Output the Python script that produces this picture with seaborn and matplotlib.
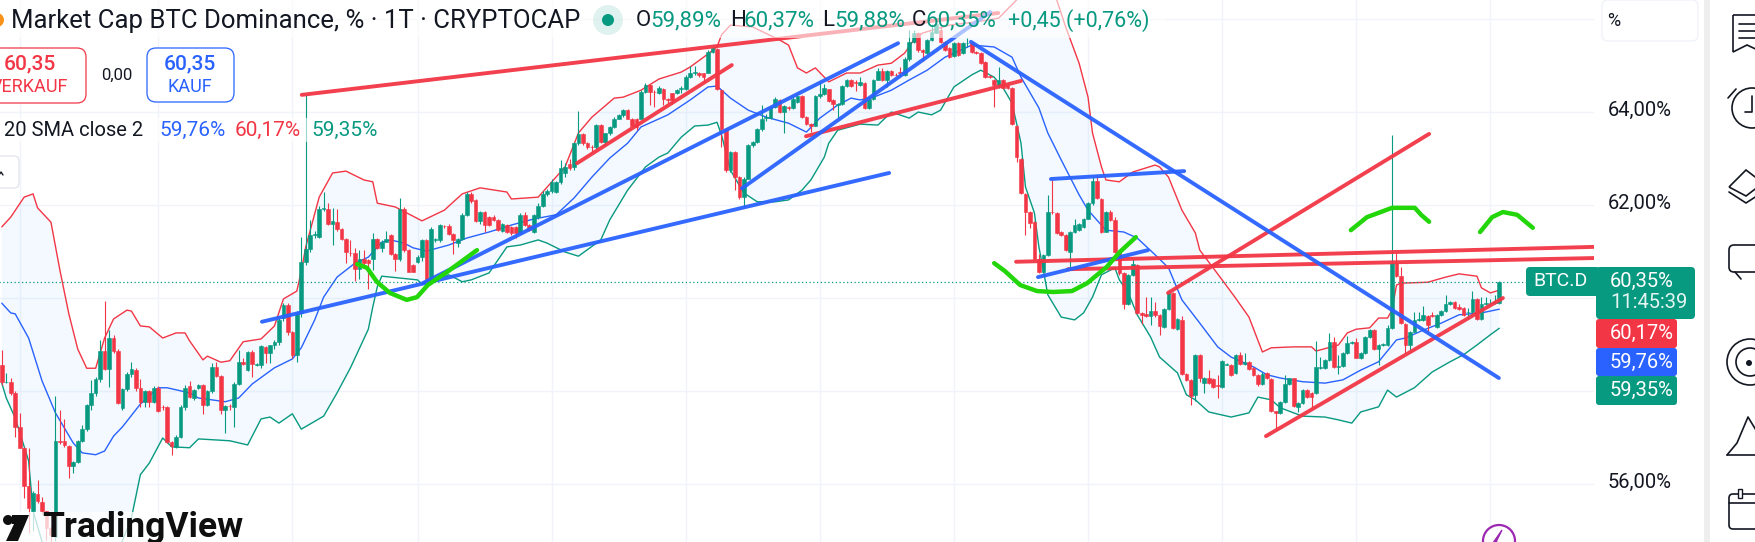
# BTC dominance daily chart, rebuilt from a TradingView screenshot
import numpy as np
import matplotlib
matplotlib.use("Agg")
import matplotlib.pyplot as plt
from matplotlib.patches import Circle, FancyBboxPatch, Polygon, Rectangle
import seaborn as sns

GREEN = "#089981"
RED = "#F23645"
BLUE = "#2962FF"
DARK = "#131722"

# daily candles, oldest first (ten per row)
opens = [
    58.19,58.57,58.19,58.19,57.95,57.23,56.78,55.96,55.41,55.78,
    55.62,55.41,55.05,54.85,56.93,56.93,56.82,56.39,56.48,56.93,
    57.18,57.69,57.96,58.25,58.87,58.47,59.15,58.87,57.63,58.04,
    58.36,58.45,58.06,57.77,58.01,57.77,58.07,57.66,57.65,56.91,
    56.80,57.02,57.66,58.11,57.86,58.06,58.13,57.70,57.99,58.51,
    58.32,57.59,57.68,57.66,58.16,58.62,58.45,58.85,58.56,58.56,
    58.95,58.81,58.99,59.06,59.57,59.85,59.27,58.77,59.68,60.78,
    61.05,61.35,61.32,61.91,61.91,61.59,61.64,61.48,61.28,60.97,
    60.96,60.62,60.83,60.82,60.85,61.28,61.07,61.21,61.35,60.95,
    60.85,61.91,61.03,60.71,60.78,60.89,61.25,60.35,61.25,61.25,
    61.56,61.55,61.38,61.19,61.28,61.79,62.24,62.11,61.66,61.86,
    61.75,61.75,61.68,61.45,61.57,61.53,61.53,61.40,61.79,61.57,
    61.43,61.74,61.99,62.23,62.31,62.29,62.50,62.68,62.88,62.82,
    63.33,63.53,63.33,63.25,63.24,63.72,63.36,63.54,63.68,63.86,
    63.93,64.04,63.86,63.86,63.86,64.44,64.58,64.44,64.40,64.49,
    64.29,64.40,64.40,64.49,64.49,64.76,64.85,64.85,64.83,64.85,
    65.30,65.35,64.47,63.63,62.75,63.15,62.61,62.18,62.57,63.29,
    63.36,63.63,63.88,63.88,64.10,64.27,64.01,64.10,64.08,64.22,
    64.34,63.90,63.74,63.71,64.34,64.39,64.49,64.26,64.15,64.17,
    64.56,64.70,64.65,64.58,64.63,64.08,64.29,64.70,64.89,64.69,
    64.89,64.80,64.87,64.79,65.15,65.51,65.71,65.33,65.26,65.55,
    65.71,65.76,65.51,65.37,65.20,65.49,65.26,65.48,65.48,65.30,
    65.28,65.08,64.77,64.69,64.58,64.69,64.58,64.51,63.71,63.00,
    62.24,61.86,61.64,60.85,60.57,60.92,61.86,61.82,61.43,61.35,
    60.99,61.43,61.46,61.53,61.71,62.04,62.52,62.14,61.43,61.86,
    61.68,60.99,60.53,59.88,60.49,60.71,59.67,59.66,59.61,59.72,
    59.63,59.38,59.76,60.10,59.33,59.53,58.36,58.24,57.91,58.77,
    58.18,58.27,58.26,58.13,58.09,58.57,58.56,58.38,58.77,58.59,
    58.62,58.49,58.34,58.15,58.38,58.26,57.56,57.52,57.77,58.15,
    58.27,57.66,57.75,58.02,57.95,57.95,58.49,58.49,58.67,59.06,
    58.52,58.54,58.81,59.04,59.06,58.70,58.82,59.17,59.31,58.90,
    58.99,58.99,59.35,60.75,60.47,59.45,58.99,59.28,59.53,59.53,
    59.61,59.63,59.38,59.63,59.72,59.87,59.92,59.80,59.78,59.70,
    59.70,59.99,59.54,59.88,59.89,59.90,59.89,
]
closes = [
    58.57,58.19,58.20,57.95,57.23,56.78,55.96,55.48,55.80,55.64,
    55.41,55.05,54.90,56.93,56.91,56.84,56.39,56.48,56.93,57.18,
    57.69,57.96,58.25,58.87,58.47,59.15,58.87,57.75,58.04,58.36,
    58.47,58.06,57.77,58.01,57.77,58.07,57.57,57.65,56.91,56.82,
    57.02,57.66,58.07,57.88,58.02,58.13,57.70,57.99,58.51,58.32,
    57.59,57.68,57.67,58.16,58.63,58.58,58.85,58.59,58.58,58.97,
    58.81,58.99,59.06,59.53,59.85,59.27,58.77,59.68,60.78,61.05,
    61.35,61.38,61.91,61.93,61.59,61.66,61.48,61.26,60.99,60.96,
    60.62,60.83,60.75,60.75,61.28,61.07,61.21,61.26,60.95,60.83,
    61.91,61.03,60.57,60.57,60.89,61.25,60.37,61.48,61.28,61.57,
    61.55,61.38,61.25,61.28,61.79,62.24,62.09,61.66,61.86,61.57,
    61.57,61.68,61.46,61.59,61.43,61.39,61.39,61.79,61.57,61.46,
    61.79,61.99,62.23,62.31,62.49,62.50,62.79,62.82,62.80,63.33,
    63.53,63.33,63.25,63.24,63.72,63.36,63.54,63.68,63.86,63.93,
    64.04,63.86,63.70,63.68,64.44,64.58,64.44,64.43,64.51,64.29,
    64.27,64.26,64.47,64.51,64.76,64.85,64.87,64.80,64.76,65.30,
    65.37,64.49,63.63,62.75,63.15,62.61,62.18,62.57,63.29,63.36,
    63.63,63.84,63.89,64.10,64.29,64.01,64.13,64.08,64.29,64.34,
    63.90,63.74,63.71,64.34,64.39,64.51,64.24,64.17,64.17,64.56,
    64.70,64.56,64.62,64.65,64.08,64.29,64.70,64.89,64.69,64.89,
    64.80,64.79,64.83,65.15,65.51,65.71,65.33,65.30,65.55,65.73,
    65.89,65.51,65.33,65.19,65.49,65.23,65.48,65.49,65.30,65.26,
    65.06,64.76,64.76,64.58,64.69,64.51,64.51,63.74,63.04,62.25,
    61.86,61.62,60.85,60.57,60.92,61.86,61.84,61.39,61.35,61.03,
    61.43,61.57,61.60,61.71,62.04,62.52,62.16,61.43,61.86,61.68,
    60.99,60.53,59.88,60.49,60.74,59.68,59.63,59.61,59.72,59.63,
    59.40,59.76,60.10,59.35,59.54,58.36,58.24,57.90,58.77,58.27,
    58.29,58.18,58.09,58.11,58.64,58.59,58.34,58.77,58.59,58.63,
    58.47,58.34,58.15,58.36,58.27,57.56,57.52,57.77,58.15,58.27,
    57.68,57.75,58.02,57.88,57.88,58.51,58.51,58.67,59.06,58.52,
    58.53,58.81,59.04,59.06,58.72,58.82,59.17,59.31,58.90,59.00,
    59.01,59.35,60.75,60.47,59.47,58.99,59.28,59.53,59.54,59.63,
    59.42,59.61,59.63,59.72,59.87,59.92,59.78,59.76,59.63,59.71,
    59.99,59.54,59.88,59.89,59.90,59.91,60.35,
]
highs = [
    58.62,58.88,58.38,58.27,57.99,57.52,56.80,56.77,55.86,56.08,
    55.73,55.42,55.10,57.89,57.59,57.40,56.84,56.50,56.95,57.27,
    57.72,58.24,58.30,59.10,59.94,59.31,59.20,58.90,58.06,58.40,
    58.62,58.50,58.25,58.03,58.03,58.10,58.10,57.70,57.67,56.93,
    57.05,57.70,58.12,58.22,58.05,58.15,58.15,58.02,58.60,58.63,
    58.35,57.70,57.72,58.20,58.88,58.70,58.87,58.88,58.60,59.00,
    58.97,59.00,59.10,59.60,59.90,59.90,59.30,59.72,61.32,64.37,
    61.68,61.45,61.98,62.27,62.04,61.93,61.91,61.50,61.30,61.25,
    61.07,61.03,61.03,60.85,61.40,61.30,61.25,61.45,61.38,60.97,
    62.16,61.95,61.05,60.73,60.92,61.28,61.28,61.52,61.30,61.60,
    61.58,61.60,61.40,61.30,61.82,62.28,62.27,62.13,61.88,61.88,
    61.77,61.78,61.70,61.62,61.60,61.56,61.55,61.82,61.86,61.60,
    61.81,62.05,62.30,62.34,62.55,62.52,62.97,62.90,63.00,63.35,
    64.02,63.55,63.35,63.30,63.75,63.74,63.56,63.70,63.90,63.95,
    64.07,64.06,63.88,63.88,64.47,64.62,64.60,64.47,64.55,64.51,
    64.31,64.42,64.50,64.55,64.80,65.00,65.00,64.87,64.85,65.33,
    65.40,65.38,64.50,63.65,63.17,63.17,62.63,62.60,63.32,63.38,
    63.65,64.15,63.95,64.13,64.32,64.29,64.15,64.12,64.33,64.37,
    64.36,63.92,63.76,64.37,64.65,64.60,64.50,64.28,64.20,64.58,
    64.72,64.72,64.70,64.75,64.65,64.30,64.72,64.94,64.95,64.91,
    64.91,64.83,64.97,65.18,65.76,65.76,65.73,65.36,65.58,65.90,
    66.00,65.85,65.53,65.39,65.51,65.51,65.50,65.60,65.50,65.32,
    65.30,65.10,64.80,64.71,64.97,64.72,64.60,64.53,63.73,63.02,
    62.26,61.88,61.66,60.95,60.95,62.22,62.54,61.84,61.45,61.37,
    61.45,61.69,61.62,61.73,62.06,62.60,62.60,62.16,61.88,61.90,
    61.75,61.01,60.55,60.51,60.85,60.73,59.69,60.03,60.03,59.92,
    59.65,59.78,60.12,60.12,59.56,59.61,58.38,58.26,58.79,58.79,
    58.31,58.45,58.28,58.34,58.66,58.60,58.58,58.79,58.83,58.81,
    58.64,58.51,58.36,58.40,58.40,58.28,57.58,57.79,58.34,58.29,
    58.29,57.77,58.04,58.04,57.97,59.07,58.74,58.69,59.24,59.17,
    58.77,58.83,59.18,59.08,59.13,58.84,59.19,59.33,59.33,59.02,
    59.03,59.42,63.50,60.96,60.67,59.47,59.30,59.71,59.70,59.83,
    59.63,59.71,59.65,59.74,60.06,59.94,59.94,59.88,59.80,59.78,
    60.16,60.01,60.02,60.03,59.99,60.06,60.37,
]
lows = [
    58.10,58.13,58.17,57.91,57.02,56.77,55.69,54.94,55.00,55.60,
    55.35,54.80,54.75,54.78,56.87,56.80,56.12,56.23,56.46,56.90,
    57.15,57.60,57.90,58.20,58.45,58.09,58.82,57.72,57.60,58.00,
    58.30,58.00,57.65,57.65,57.66,57.75,57.55,57.60,56.89,56.62,
    56.78,57.00,57.60,57.85,57.80,58.04,57.50,57.68,57.95,58.30,
    57.50,57.09,57.60,57.23,58.14,58.56,58.43,58.31,58.54,58.50,
    58.60,58.60,58.90,59.00,59.50,59.20,58.70,58.62,59.60,60.70,
    61.00,61.30,61.30,61.88,61.57,61.14,61.44,61.24,60.76,60.90,
    60.37,60.42,60.72,60.19,60.60,61.05,61.00,61.20,60.93,60.59,
    60.80,61.00,60.55,60.55,60.75,60.80,60.33,60.30,61.20,61.20,
    61.50,61.35,60.94,61.10,61.25,61.77,62.05,61.64,61.60,61.41,
    61.55,61.65,61.44,61.42,61.40,61.35,61.30,61.37,61.55,61.44,
    61.40,61.70,61.95,62.20,62.25,62.25,62.45,62.60,62.75,62.75,
    63.30,63.30,63.20,63.15,63.20,63.34,63.30,63.50,63.65,63.84,
    63.90,63.84,63.68,63.61,63.84,64.40,64.15,64.10,64.38,64.15,
    64.20,64.17,64.38,64.40,64.47,64.74,64.80,64.75,64.65,64.83,
    65.28,64.47,63.25,62.70,62.70,62.32,62.14,61.96,62.55,63.25,
    63.34,63.60,63.80,63.86,64.08,63.99,63.54,64.05,64.06,64.20,
    63.88,63.72,63.58,63.69,64.30,64.37,64.22,64.04,63.88,64.15,
    64.54,64.54,64.45,64.56,64.06,64.06,64.27,64.68,64.67,64.54,
    64.78,64.77,64.77,64.77,65.10,65.49,65.30,65.10,65.24,65.53,
    65.69,65.49,65.31,65.17,65.18,65.21,65.24,65.40,65.28,65.24,
    65.04,64.74,64.74,64.10,64.51,64.49,64.49,63.72,62.93,62.23,
    61.35,61.50,60.83,60.54,60.55,60.90,61.80,61.37,61.33,61.01,
    60.64,61.40,61.44,61.50,61.69,62.00,62.14,61.40,61.41,61.66,
    60.97,60.50,59.76,59.86,60.47,59.66,59.45,59.59,59.42,59.60,
    59.20,59.36,59.74,59.33,59.31,58.34,58.22,57.70,57.79,58.20,
    57.96,58.16,58.07,57.84,58.07,58.55,58.32,58.36,58.57,58.55,
    58.45,58.32,58.10,58.12,58.25,57.54,57.20,57.50,57.75,58.13,
    57.66,57.55,57.73,57.86,57.66,57.93,58.47,58.47,58.65,58.50,
    58.36,58.52,58.79,59.02,58.70,58.68,58.80,59.15,58.88,58.56,
    58.97,58.97,59.33,60.45,59.45,58.81,58.88,59.26,59.50,59.51,
    59.28,59.59,59.36,59.61,59.70,59.85,59.76,59.74,59.61,59.55,
    59.68,59.52,59.52,59.85,59.85,59.87,59.88,
]

# bollinger bands, read as bars back from the last candle
upper_back = [335,333,330,328,327,324,322,320,318,316,314,312,310,307,306,304,302,299,296,294,
              293,290,289,286,284,281,277,274,272,269,268,267,264,261,258,254,252,251,247,241,
              236,232,228,222,221,215,209,206,203,198,196,192,188,183,181,178,175,174,172,167,
              161,159,157,155,153,150,146,143,139,136,133,131,129,123,117,112,108,105,102,99,
              97,94,92,91,89,88,85,82,77,76,74,71,68,67,62,59,56,53,51,46,
              42,41,36,34,32,29,27,25,24,23,22,16,12,9,5,4,2,0]
upper_val = [61.53,61.74,62.17,62.24,61.94,61.63,60.60,59.66,58.90,58.49,58.49,59.14,59.55,59.74,59.72,59.40,59.38,59.14,59.25,59.25,
             59.08,58.67,58.75,58.62,58.65,59.06,59.12,59.40,59.98,60.15,60.58,61.10,62.17,62.69,62.73,62.54,62.50,62.04,61.96,61.66,
             61.89,62.24,62.37,62.28,62.13,62.17,62.82,63.55,63.89,64.30,64.32,64.47,64.71,64.86,64.97,65.18,65.40,65.66,65.87,65.83,
             65.55,65.44,64.95,64.84,64.95,64.65,64.84,64.84,65.01,65.05,65.27,65.55,65.70,65.87,65.94,66.02,66.41,66.73,66.62,66.41,
             65.83,65.05,64.32,63.55,62.82,62.54,62.50,62.71,62.86,62.82,62.60,61.89,61.40,61.03,60.39,60.00,59.59,58.84,58.93,58.95,
             58.95,58.86,58.99,59.25,59.33,59.36,59.57,59.57,59.74,60.28,60.32,60.34,60.45,60.52,60.47,60.22,60.11,60.17]
middle_back = [335,333,332,329,326,323,319,317,314,312,310,308,304,300,298,293,291,285,282,279,
               274,270,268,265,263,260,256,253,250,248,245,243,240,235,231,226,221,216,211,207,
               203,199,195,192,186,181,177,175,172,168,164,159,155,152,148,145,143,140,136,132,
               128,124,118,113,109,107,103,101,98,94,92,88,84,81,77,74,71,67,63,60,
               55,52,49,44,39,35,31,27,23,21,17,13,9,4,1,0]
middle_val = [59.89,59.68,59.66,59.14,58.22,57.53,56.88,56.67,56.63,56.71,57.03,57.23,57.72,58.07,58.07,57.96,57.85,57.77,57.85,58.15,
              58.50,58.69,58.93,59.53,60.02,60.45,60.75,60.88,61.20,61.25,61.18,61.08,61.01,61.14,61.29,61.42,61.57,61.70,61.79,62.15,
              62.60,63.01,63.33,63.68,63.94,64.26,64.54,64.56,64.30,64.04,63.89,63.76,63.57,63.87,64.15,64.30,64.26,64.32,64.47,64.69,
              64.90,65.18,65.44,65.40,65.18,64.75,64.09,63.55,62.97,62.22,61.89,61.46,61.42,61.29,60.93,60.65,59.96,59.46,58.95,58.73,
              58.52,58.35,58.28,58.20,58.17,58.24,58.45,58.63,59.10,59.14,59.31,59.46,59.64,59.68,59.74,59.76]
lower_back = [335,334,332,329,328,326,322,318,312,308,306,304,302,299,297,293,291,284,280,277,
              275,273,270,268,263,260,257,253,252,251,250,248,242,241,235,232,230,226,222,219,
              215,213,209,206,201,199,195,191,188,186,183,180,177,175,174,172,169,166,162,159,
              156,154,151,150,148,143,139,136,132,130,127,125,122,118,116,113,111,109,107,106,
              104,103,102,101,98,95,93,91,89,86,85,83,81,78,76,72,70,68,65,60,
              56,54,51,49,46,44,39,36,33,31,27,25,23,19,15,11,8,5,2,0]
lower_val = [58.17,57.85,57.42,56.50,55.42,54.76,53.72,53.51,53.94,54.78,55.27,56.20,56.45,56.99,56.80,56.78,56.97,56.93,56.84,57.40,
             57.44,57.31,57.51,57.18,57.46,57.96,58.50,59.33,59.81,60.24,60.47,60.45,60.39,60.30,60.50,60.35,60.39,60.54,61.10,61.14,
             61.25,61.18,60.99,60.90,61.25,61.68,62.32,62.82,63.03,63.12,63.46,63.70,63.72,63.78,63.51,62.75,62.26,62.07,62.07,62.11,
             62.32,62.54,63.03,63.33,63.61,63.74,63.72,64.00,63.87,64.00,63.94,64.04,64.54,64.80,64.90,64.75,64.52,64.19,63.33,62.39,
             61.83,61.10,60.60,60.07,59.59,59.53,59.68,60.02,60.50,60.65,60.39,60.11,59.64,59.16,58.73,58.39,57.92,57.81,57.55,57.44,
             57.53,57.87,57.81,57.64,57.53,57.46,57.44,57.38,57.31,57.55,57.66,58.02,57.87,58.07,58.41,58.63,58.78,58.99,59.21,59.35]

# hand drawn trend lines (x is bars relative to the last candle)
red_top_x, red_top_y = [-267.9, -112.1], [64.37, 66.13]
red_channel_x, red_channel_y = [-206.3, -171.7], [62.90, 65.01]
red_d_x, red_d_y = [-155.1, -107.0], [63.48, 64.67]
red_h_x, red_h_y = [-108.1, 21.1], [60.78, 61.10]
red_i_x, red_i_y = [-96.5, 21.1], [60.62, 60.86]
red_j_x, red_j_y = [-74.1, -15.7], [60.11, 63.53]
red_k_x, red_k_y = [-52.2, 0.8], [57.03, 60.00]
blue_a_x, blue_a_y = [-276.8, -136.5], [59.49, 62.69]
blue_b_x, blue_b_y = [-240.8, -134.5], [60.32, 65.48]
blue_c_x, blue_c_y = [-169.4, -113.9], [62.36, 66.15]
blue_e_x, blue_e_y = [-118.2, -0.1], [65.51, 58.28]
blue_f_x, blue_f_y = [-100.3, -70.5], [62.56, 62.73]
blue_g_x, blue_g_y = [-103.2, -78.6], [60.45, 61.03]
green_1_x = [-255.5, -253.3, -251.1, -248.2, -244.4, -242.1, -239.7, -235.4, -228.7]
green_1_y = [60.73, 60.65, 60.35, 60.11, 59.96, 60.02, 60.28, 60.56, 61.03]
green_2_x = [-113.0, -110.6, -107.2, -103.4, -99.8, -95.6, -92.2, -87.8, -84.9, -81.3]
green_2_y = [60.75, 60.58, 60.28, 60.15, 60.13, 60.15, 60.32, 60.67, 60.99, 61.31]
green_3_x = [-33.2, -29.6, -24.0, -18.9, -17.5, -15.7]
green_3_y = [61.46, 61.74, 61.94, 61.94, 61.79, 61.64]
green_4_x = [-4.3, -1.6, 0.8, 4.0, 7.5]
green_4_y = [61.42, 61.74, 61.85, 61.79, 61.51]

price_levels = [66, 64, 62, 60, 58, 56]
month_lines = [-331, -300, -270, -242, -212, -182, -152, -122, -92, -62, -32, -2]
price_labels = ["64,00%", "62,00%", "56,00%"]
last_close = 60.35

sns.set_theme(style="white")
plt.rcParams["font.family"] = ["Roboto", "DejaVu Sans"]

fig = plt.figure(figsize=(17.55, 5.42), dpi=100, facecolor="white")
ax = fig.add_axes([0, 0, 1, 1])
ax.set_xlim(-335.4, 57.2)
ax.set_ylim(54.753, 66.41)
ax.axis("off")

# right end of the chart pane in bars
pane_end = 21.1
ax.hlines(price_levels, -336, pane_end, color="#F0F3FA", lw=1, zorder=0)
ax.vlines(month_lines, 54, 67, color="#F0F3FA", lw=1, zorder=0)

# band fill and lines
up_x, low_x = -np.array(upper_back, float), -np.array(lower_back, float)
ax.fill(np.r_[up_x, low_x[::-1]], np.r_[upper_val, lower_val[::-1]],
        color="#2196F3", alpha=0.05, lw=0, zorder=1)
sns.lineplot(x=up_x, y=upper_val, sort=False, estimator=None, color=RED, lw=1.0, ax=ax, zorder=2)
sns.lineplot(x=-np.array(middle_back, float), y=middle_val, sort=False, estimator=None, color=BLUE, lw=1.0, ax=ax, zorder=2)
sns.lineplot(x=low_x, y=lower_val, sort=False, estimator=None, color=GREEN, lw=1.0, ax=ax, zorder=2)

# candles
o, c, h, l = map(np.array, (opens, closes, highs, lows))
bar_x = np.arange(-len(c) + 1, 1)
cols = np.where(c >= o, GREEN, RED)
ax.vlines(bar_x, l, h, colors=cols, lw=0.8, zorder=3)
ax.bar(bar_x, np.abs(c - o), bottom=np.minimum(o, c), width=0.82, color=cols,
       edgecolor=cols, linewidth=0.4, zorder=3)

# dotted last price line
ax.hlines(last_close, -336, 6, color=GREEN, lw=0.9, linestyle=(0, (1, 2)), zorder=3)

# drawings on top
for x, y, col in [(red_top_x, red_top_y, RED), (red_channel_x, red_channel_y, RED),
                  (red_d_x, red_d_y, RED), (red_h_x, red_h_y, RED), (red_i_x, red_i_y, RED),
                  (red_j_x, red_j_y, RED), (red_k_x, red_k_y, RED),
                  (blue_a_x, blue_a_y, BLUE), (blue_b_x, blue_b_y, BLUE), (blue_c_x, blue_c_y, BLUE),
                  (blue_e_x, blue_e_y, BLUE), (blue_f_x, blue_f_y, BLUE), (blue_g_x, blue_g_y, BLUE)]:
    sns.lineplot(x=x, y=y, sort=False, estimator=None, color=col, lw=2.8, alpha=0.95, ax=ax, zorder=5)
for x, y in [(green_1_x, green_1_y), (green_2_x, green_2_y), (green_3_x, green_3_y), (green_4_x, green_4_y)]:
    sns.lineplot(x=x, y=y, sort=False, estimator=None, color="#22D60A", lw=3.2, ax=ax, zorder=5,
                 solid_capstyle="round", solid_joinstyle="round")
if ax.get_legend():
    ax.get_legend().remove()
ax.axis("off")

# screen chrome in pixel coordinates
ui = fig.add_axes([0, 0, 1, 1], facecolor="none")
ui.set_xlim(0, 1755)
ui.set_ylim(542, 0)
ui.axis("off")


def label(x, y, s, color=DARK, size=12, ha="left", **kw):
    ui.text(x, y, s, color=color, fontsize=size, ha=ha, va="center", **kw)


def box(x0, y0, x1, y1, face, edge="none", r=5, **kw):
    ui.add_patch(FancyBboxPatch((x0 + r, y0 + r), x1 - x0 - 2 * r, y1 - y0 - 2 * r,
                                boxstyle=f"round,pad={r},rounding_size={r}",
                                fc=face, ec=edge, mutation_aspect=1, **kw))


# faded legend strips over the chart
ui.add_patch(Rectangle((0, 0), 1165, 38, fc="white", ec="none", alpha=0.6))
ui.add_patch(Rectangle((0, 118), 380, 24, fc="white", ec="none", alpha=0.6))

# header
ui.add_patch(Circle((-3, 20), 7, fc="#F7931A", ec="none"))
label(11, 21, "Market Cap BTC Dominance, % · 1T · CRYPTOCAP", size=18.5)
ui.add_patch(Circle((608, 20), 15, fc=GREEN, ec="none", alpha=0.12))
ui.add_patch(Circle((608, 20), 6, fc=GREEN, ec="none"))
for x_l, letter, x_v, val in [(636, "O", 650, "59,89%"), (730, "H", 744, "60,37%"),
                              (822, "L", 834, "59,88%"), (912, "C", 926, "60,35%")]:
    label(x_l, 21, letter, size=16)
    label(x_v, 21, val, color=GREEN, size=16)
label(1008, 21, "+0,45 (+0,76%)", color=GREEN, size=15.5)

# buy and sell boxes
box(-20, 48, 86, 103, "white", RED, r=9, lw=0.9)
label(30, 64, "60,35", color=RED, size=15, ha="center", fontweight="medium")
label(68, 87, "VERKAUF", color=RED, size=13, ha="right")
label(117, 75, "0,00", size=12, ha="center")
box(147, 48, 234, 102, "white", BLUE, r=9, lw=0.9)
label(190, 64, "60,35", color=BLUE, size=15, ha="center", fontweight="medium")
label(190, 87, "KAUF", color=BLUE, size=13, ha="center")

# indicator row
label(4, 130, "20 SMA close 2", size=14.5)
label(159, 130, "59,76%", color=BLUE, size=15)
label(235, 130, "60,17%", color=RED, size=15)
label(311, 130, "59,35%", color=GREEN, size=15)
box(-20, 156, 19, 188, "white", "#E0E3EB", r=5, lw=0.9)
ui.plot([-1, 1, 3], [175, 172, 175], color=DARK, lw=1)

# price scale
ui.add_patch(Rectangle((1594, 0), 110, 542, fc="white", ec="none"))
box(1602, 0, 1698, 41, "white", "#F0F3FA", r=6, lw=1)
label(1607, 21, "%", size=13)
for s, yy in zip(price_labels, [110, 203, 482]):
    label(1640, yy, s, size=14.5, ha="center")

box(1526, 267, 1600, 296, GREEN, r=4)
label(1561, 281, "BTC.D", color="white", size=14, ha="center")
box(1596, 267, 1695, 319, GREEN, r=4)
label(1610, 281, "60,35%", color="white", size=14.5)
label(1610, 303, "11:45:39", color="#E4F5F1", size=14.5)
for y0, y1, col, s in [(319, 348, RED, "60,17%"), (348, 376, BLUE, "59,76%"), (376, 405, GREEN, "59,35%")]:
    box(1596, y0, 1677, y1, col, r=3)
    label(1610, (y0 + y1) / 2, s, color="white", size=14.5)

# side toolbar
ui.add_patch(Rectangle((1704, 0), 6, 542, fc="#EEEEEE", ec="none"))
ink = dict(color=DARK, lw=1.2)
ui.add_patch(Polygon([(1733, 15), (1762, 15), (1762, 52), (1747, 45), (1733, 52)], closed=True, fc="none", ec=DARK, lw=1.2))
for yy in [24, 31, 38]:
    ui.plot([1739, 1762], [yy, yy], **ink)
ui.add_patch(Circle((1752, 108), 20, fc="none", ec=DARK, lw=1.2))
ui.plot([1752, 1752, 1745], [96, 112, 112], **ink)
ui.plot([1728, 1736], [98, 89], **ink)
ui.add_patch(Polygon([(1729, 187), (1746, 170), (1763, 183), (1746, 196)], closed=True, fc="none", ec=DARK, lw=1.2))
ui.plot([1729, 1746, 1763], [192, 203, 192], **ink)
box(1729, 245, 1765, 272, "none", DARK, r=5, lw=1.2)
ui.plot([1735, 1741], [272, 279], **ink)
for r in [23, 14]:
    ui.add_patch(Circle((1750, 362), r, fc="none", ec=DARK, lw=1.2))
ui.add_patch(Circle((1749, 363), 3, fc=DARK, ec="none"))
ui.plot([1727, 1737, 1748, 1765], [455, 443, 417, 445], **ink)
ui.plot([1727, 1765], [455, 455], **ink)
box(1729, 494, 1765, 529, "none", DARK, r=4, lw=1.2)
ui.plot([1729, 1765], [503, 503], **ink)
ui.add_patch(Rectangle((1738, 489), 4, 9, fc="white", ec=DARK, lw=1))

# purple lightning button
ui.add_patch(Circle((1499, 541), 16, fc="white", ec="#9C27B0", lw=1.6))
ui.add_patch(Polygon([(1502, 530), (1493, 543), (1499, 543), (1496, 542)], closed=True, fc="#9C27B0", ec="#9C27B0", lw=1))

# TradingView logo
ui.add_patch(Rectangle((0, 512), 245, 30, fc="white", ec="none", alpha=0.75))
ui.add_patch(Circle((8, 520), 5, fc="#0F0F0F", ec="none"))
ui.add_patch(Polygon([(12, 515), (29, 515), (18, 541), (6, 541), (14, 524), (12, 524)], closed=True, fc="#0F0F0F", ec="none"))
label(42, 527, "TradingView", color="#0F0F0F", size=25.5, fontweight="bold")

fig.savefig("out.png", dpi=100, facecolor="white")
